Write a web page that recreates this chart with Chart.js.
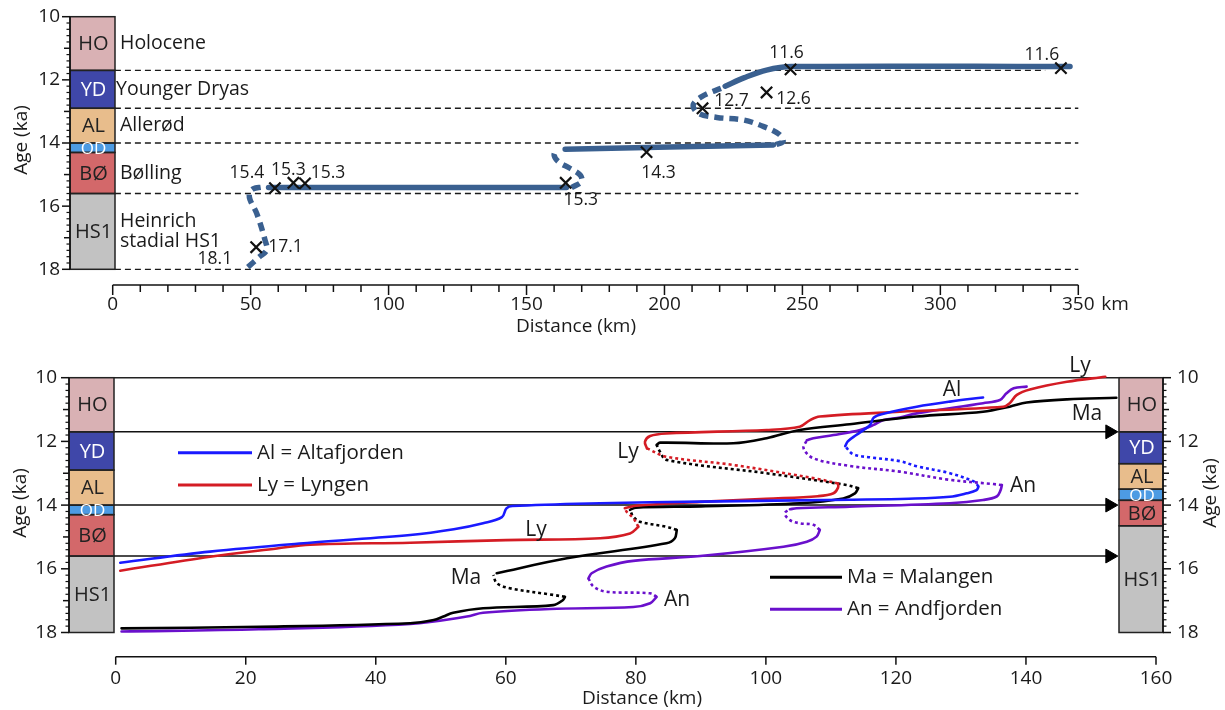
<!DOCTYPE html>
<html>
<head>
<meta charset="utf-8">
<script src="https://cdn.jsdelivr.net/npm/chart.js@4.4.1/dist/chart.umd.min.js"></script>
<style>
  body { margin: 0; background: #fff; width: 1225px; height: 710px; overflow: hidden; }
  canvas { display: block; }
</style>
</head>
<body>
<canvas id="topChart" width="1225" height="340"></canvas>
<canvas id="bottomChart" width="1225" height="370"></canvas>
<script>
var FONT = '"Open Sans", sans-serif';

// stratigraphy
var periodCodes = ["HO", "YD", "AL", "OD", "BØ", "HS1"];
var periodNames = ["Holocene", "Younger Dryas", "Allerød", "", "Bølling", "Heinrich\nstadial HS1"];
var periodColors = ["#d9b1b4", "#3f47a9", "#e8bd8c", "#4d9be3", "#d3686a", "#c2c2c2"];
var periodText = ["#222", "#fff", "#222", "#fff", "#222", "#222"];
var leftBounds = [10, 11.7, 12.9, 14.0, 14.3, 15.6, 18];
var rightBounds = [10, 11.7, 12.7, 13.5, 13.85, 14.65, 18];

// top panel: ice margin line (distance km, age ka)
var hs1Dashed = [[49, 17.93], [53, 17.62], [55.8, 17.39], [55.2, 17.07], [52.2, 16.23], [49.8, 15.8], [49.6, 15.58], [51, 15.45], [54, 15.4]];
var bollingSolid = [[56.5, 15.41], [164.5, 15.41]];
var bollingDashed = [[166.3, 15.41], [170, 15.22], [169.4, 15.01], [165.7, 14.8], [161.5, 14.59], [160, 14.38], [161, 14.2]];
var allerodSolid = [[164, 14.2], [239.5, 14.06]];
var ydDashed = [[240.5, 14.05], [243, 13.95], [241.5, 13.72], [236, 13.48], [228.6, 13.27], [219, 13.19], [212.3, 13.06], [210.4, 12.8], [213.5, 12.53], [221.3, 12.24]];
var holoceneSolid = [[222, 12.2], [229, 11.93], [237, 11.69], [246, 11.58], [347, 11.58]];
var markerX = [52, 58.8, 65.5, 69.7, 164.2, 193.5, 213.8, 237, 245.7, 343.7];
var markerY = [17.3, 15.43, 15.26, 15.28, 15.26, 14.29, 12.9, 12.4, 11.67, 11.63];
var markerLabels = ["17.1", "15.4", "15.3", "15.3", "15.3", "14.3", "12.7", "12.6", "11.6", "11.6"];
var topBoundaries = [11.7, 12.9, 14.0, 15.6, 18.0];
var topBoundaryEnd = [338, 350, 350, 350, 350];

// bottom panel: fjord curves
var alSolid1 = [[0.7, 15.81], [14.5, 15.46], [29.9, 15.18], [45.3, 14.94], [52, 14.76], [56.5, 14.57], [59.4, 14.38], [60.1, 14.1], [61, 14.03], [74.5, 13.94], [90, 13.89], [112.9, 13.83], [122, 13.8], [128.3, 13.74], [130.9, 13.63], [132.4, 13.53], [132.7, 13.42]];
var alDotted = [[132.7, 13.42], [132.1, 13.27], [128.3, 13.0], [123.2, 12.78], [120.6, 12.62], [116, 12.5], [113.4, 12.4], [112.2, 12.15]];
var alSolid2 = [[112.2, 12.15], [112.6, 12.0], [113.9, 11.8], [116, 11.49], [116.6, 11.25], [118.1, 11.13], [123.2, 10.91], [128.3, 10.75], [133.4, 10.62]];

var lySolid1 = [[0.7, 16.06], [14.5, 15.62], [24.8, 15.36], [29.9, 15.24], [45.3, 15.18], [60, 15.1], [74.5, 15.04], [79.1, 14.89], [80.4, 14.68]];
var lyDotted1 = [[80.4, 14.68], [79.6, 14.41], [78.6, 14.21], [78.3, 14.1]];
var lySolid2 = [[78.3, 14.1], [80, 14.02], [89.9, 13.9], [100, 13.8], [108, 13.72], [110.4, 13.63], [111.1, 13.45], [111.1, 13.32]];
var lyDotted2 = [[111.1, 13.32], [108, 13.18], [95, 12.74], [84.7, 12.48], [81.7, 12.22]];
var lySolid3 = [[81.7, 12.22], [81.4, 12.01], [82.2, 11.83], [84.7, 11.75], [100.1, 11.64], [105.2, 11.54], [106.8, 11.33], [108.3, 11.22], [120.6, 11.07], [136.5, 10.91], [137.5, 10.8], [138.6, 10.54], [140.6, 10.37], [146.3, 10.13], [152.2, 9.97]];

var maSolid1 = [[0.9, 17.87], [22.2, 17.82], [45.3, 17.71], [48.9, 17.61], [50.4, 17.5], [51.9, 17.38], [56.5, 17.24], [67.3, 17.14], [68.8, 16.98], [69.1, 16.88]];
var maDotted1 = [[69.1, 16.88], [67.3, 16.82], [60.6, 16.61], [58.6, 16.45], [58.1, 16.19]];
var maSolid2 = [[58.6, 16.14], [69.4, 15.67], [84.7, 15.2], [86, 15.04], [86.3, 14.78]];
var maDotted2 = [[86.3, 14.78], [84.7, 14.68], [80.6, 14.52], [79.6, 14.36], [79.1, 14.15]];
var maSolid3 = [[79.1, 14.15], [80, 14.08], [90, 14.04], [105.2, 13.94], [111.9, 13.79], [113.7, 13.63], [114.2, 13.47]];
var maDotted3 = [[114.2, 13.47], [112.4, 13.37], [100.1, 13.0], [84.7, 12.58], [83.7, 12.32], [83.2, 12.11]];
var maSolid4 = [[83.2, 12.11], [83.7, 12.04], [95, 12.06], [100.1, 11.9], [105.2, 11.64], [112.9, 11.46], [123.2, 11.22], [133.4, 11.07], [137.5, 10.91], [140.1, 10.78], [146.3, 10.68], [153.9, 10.63]];

var anSolid1 = [[0.9, 17.97], [22, 17.9], [45.3, 17.73], [54, 17.5], [56.5, 17.38], [66.8, 17.26], [79.6, 17.2], [82.2, 17.08], [83.2, 16.88]];
var anDotted1 = [[83.2, 16.88], [82.2, 16.77], [75.5, 16.72], [73.5, 16.56], [72.7, 16.3]];
var anSolid2 = [[72.7, 16.3], [73.2, 16.14], [75.5, 15.93], [79.6, 15.75], [89.9, 15.6], [102.7, 15.31], [106.3, 15.15], [107.8, 14.99], [108.3, 14.78]];
var anDotted2 = [[108.3, 14.78], [107.3, 14.62], [105.2, 14.57], [103.7, 14.47], [102.9, 14.26], [103.7, 14.13]];
var anSolid3 = [[103.7, 14.13], [104.7, 14.1], [112.9, 14.05], [128.3, 13.94], [133.4, 13.84], [135.5, 13.73], [136.1, 13.53], [136.3, 13.37]];
var anDotted3 = [[136.3, 13.37], [135, 13.34], [128, 13.2], [120.6, 12.95], [112.9, 12.77], [107.3, 12.53], [105.8, 12.22], [106.3, 11.96]];
var anSolid4 = [[106.3, 11.96], [107.3, 11.9], [110.4, 11.8], [114.5, 11.64], [116.5, 11.49], [118.1, 11.33], [120.6, 11.25], [123.2, 11.12], [133.4, 10.8], [136, 10.7], [137, 10.49], [138.1, 10.33], [140.1, 10.28]];

var bottomArrows = [11.7, 14.0, 15.6];
var legendNames = ["Al = Altafjorden", "Ly = Lyngen", "Ma = Malangen", "An = Andfjorden"];

var BLUE = "#1a1aff", RED = "#d41c24", BLACK = "#000", PURPLE = "#6a10cc";

function pts(arr) {
  return arr.map(function (p) { return { x: p[0], y: p[1] }; });
}

function seg(arr, color, width, dash, order) {
  return {
    data: pts(arr),
    showLine: true,
    borderColor: color,
    borderWidth: width,
    borderDash: dash || [],
    borderCapStyle: dash ? "butt" : "round",
    pointRadius: 0,
    tension: 0.35,
    clip: false,
    order: order || 1
  };
}

function drawText(ctx, s, x, y, size, align, color, rot) {
  ctx.save();
  ctx.font = size + "px " + FONT;
  ctx.fillStyle = color || "#1a1a1a";
  ctx.textAlign = align || "center";
  ctx.textBaseline = "middle";
  ctx.translate(x, y);
  if (rot) ctx.rotate(rot);
  ctx.fillText(s, 0, 0);
  ctx.restore();
}

function drawColumn(ctx, ys, x0, x1, bounds) {
  var i, a, b;
  for (i = 0; i < periodCodes.length; i++) {
    a = ys.getPixelForValue(bounds[i]);
    b = ys.getPixelForValue(bounds[i + 1]);
    ctx.fillStyle = periodColors[i];
    ctx.fillRect(x0, a, x1 - x0, b - a);
  }
  ctx.strokeStyle = "#222";
  ctx.lineWidth = 1.5;
  for (i = 0; i < periodCodes.length; i++) {
    a = ys.getPixelForValue(bounds[i]);
    b = ys.getPixelForValue(bounds[i + 1]);
    ctx.strokeRect(x0, a, x1 - x0, b - a);
  }
  for (i = 0; i < periodCodes.length; i++) {
    a = ys.getPixelForValue(bounds[i]);
    b = ys.getPixelForValue(bounds[i + 1]);
    drawText(ctx, periodCodes[i], (x0 + x1) / 2 + 1, (a + b) / 2 + 1, i === 3 ? 17 : 20, "center", periodText[i]);
  }
}

function drawYAxis(ctx, ys, x, dir, labelX, align) {
  ctx.strokeStyle = "#111";
  ctx.lineWidth = 1.5;
  ctx.beginPath();
  ctx.moveTo(x, ys.getPixelForValue(10));
  ctx.lineTo(x, ys.getPixelForValue(18));
  ctx.stroke();
  for (var k = 0; k <= 40; k++) {
    var p = ys.getPixelForValue(10 + k * 0.2);
    var len = k % 10 === 0 ? 8 : (k % 5 === 0 ? 6 : 3.5);
    ctx.lineWidth = k % 5 === 0 ? 1.5 : 1.2;
    ctx.beginPath();
    ctx.moveTo(x, p);
    ctx.lineTo(x + dir * len, p);
    ctx.stroke();
  }
  for (var v = 10; v <= 18; v += 2) {
    drawText(ctx, String(v), labelX, ys.getPixelForValue(v), 19, align);
  }
}

// label placement around the markers, in pixels
var labelOffsets = [[12, 0, "left"], [-28, -15, "center"], [-5, -13, "center"], [23, -10, "center"], [15, 17, "center"], [12, 21, "center"], [29, -7, "center"], [27, 7, "center"], [-4, -16, "center"], [-19, -13, "center"]];

var topDeco = {
  id: "topDeco",
  afterDraw: function (chart) {
    var ctx = chart.ctx, xs = chart.scales.x, ys = chart.scales.y;
    var i;
    drawColumn(ctx, ys, 70, 115, leftBounds);
    drawYAxis(ctx, ys, 70, -1, 60, "right");
    drawText(ctx, "Age (ka)", 22, 140, 19, "center", "#1a1a1a", -Math.PI / 2);

    for (i = 0; i < periodNames.length; i++) {
      if (!periodNames[i]) continue;
      var mid = ys.getPixelForValue((leftBounds[i] + leftBounds[i + 1]) / 2);
      var lines = periodNames[i].split("\n");
      var xl = i === 1 ? 116 : 120;
      if (lines.length === 1) {
        drawText(ctx, lines[0], xl, mid, 19.5, "left");
      } else {
        drawText(ctx, lines[0], xl, mid - 10, 19.5, "left");
        drawText(ctx, lines[1], xl, mid + 10, 19.5, "left");
      }
    }

    // x axis, offset below plot
    var ay = 285;
    ctx.strokeStyle = "#111";
    ctx.lineWidth = 1.5;
    ctx.beginPath();
    ctx.moveTo(xs.getPixelForValue(0), ay);
    ctx.lineTo(xs.getPixelForValue(350), ay);
    ctx.stroke();
    for (var v = 0; v <= 350; v += 10) {
      var px = xs.getPixelForValue(v);
      ctx.beginPath();
      ctx.moveTo(px, ay);
      ctx.lineTo(px, ay + (v % 50 === 0 ? 10 : 7));
      ctx.stroke();
      if (v % 50 === 0) drawText(ctx, String(v), px, 305, 19, "center");
    }
    drawText(ctx, "km", 1115, 305, 19, "center");
    drawText(ctx, "Distance (km)", 576, 327, 19, "center");

    for (i = 0; i < markerLabels.length; i++) {
      var o = labelOffsets[i];
      drawText(ctx, markerLabels[i], xs.getPixelForValue(markerX[i]) + o[0], ys.getPixelForValue(markerY[i]) + o[1], 17.5, o[2]);
    }
    drawText(ctx, "18.1", xs.getPixelForValue(hs1Dashed[0][0]) - 33, ys.getPixelForValue(hs1Dashed[0][1]) - 8, 17.5, "center");
  }
};

var topDatasets = [{
  data: markerX.map(function (x, i) { return { x: x, y: markerY[i] }; }),
  showLine: false,
  pointStyle: "crossRot",
  pointRadius: 8,
  pointBorderWidth: 2.2,
  pointBorderColor: "#111",
  pointBackgroundColor: "#111",
  clip: false,
  order: 0
}];
var TOPBLUE = "#3a6090";
[[hs1Dashed, true], [bollingSolid, false], [bollingDashed, true], [allerodSolid, false], [ydDashed, true], [holoceneSolid, false]].forEach(function (s) {
  topDatasets.push(seg(s[0], TOPBLUE, 5.5, s[1] ? [9, 6] : null, 1));
});
topBoundaries.forEach(function (y, i) {
  var d = seg([[0.8, y], [topBoundaryEnd[i], y]], "#1a1a1a", 1.3, [6, 4], 2);
  d.tension = 0;
  topDatasets.push(d);
});

new Chart("topChart", {
  type: "scatter",
  data: { datasets: topDatasets },
  options: {
    responsive: false,
    animation: false,
    devicePixelRatio: 1,
    events: [],
    layout: { padding: { left: 112.7, right: 146.7, top: 16.7, bottom: 70.7 } },
    scales: {
      x: { type: "linear", min: 0, max: 350, display: false },
      y: { type: "linear", min: 10, max: 18, reverse: true, display: false }
    },
    plugins: { legend: { display: false }, tooltip: { enabled: false } }
  },
  plugins: [topDeco]
});

// bottom panel
var curveLabels = [["Al", 952, 50], ["Ly", 1080, 26], ["Ma", 1087, 74], ["An", 1023, 146], ["Ly", 628, 112], ["Ly", 536, 190], ["Ma", 466, 238], ["An", 677, 260]];
var legendPos = [[178, 252, 112.7, BLUE], [178, 252, 145, RED], [770, 842, 237.3, BLACK], [770, 842, 269.3, PURPLE]];

var bottomDeco = {
  id: "bottomDeco",
  afterDraw: function (chart) {
    var ctx = chart.ctx, xs = chart.scales.x, ys = chart.scales.y;
    var i;
    drawColumn(ctx, ys, 69, 114, leftBounds);
    drawYAxis(ctx, ys, 69, -1, 57, "right");
    drawText(ctx, "Age (ka)", 21, 163, 19, "center", "#1a1a1a", -Math.PI / 2);
    drawColumn(ctx, ys, 1119, 1163, rightBounds);
    drawYAxis(ctx, ys, 1163, 1, 1177, "left");
    drawText(ctx, "Age (ka)", 1211, 153, 19, "center", "#1a1a1a", -Math.PI / 2);

    var ay = 316.7;
    ctx.strokeStyle = "#111";
    ctx.lineWidth = 1.5;
    ctx.beginPath();
    ctx.moveTo(xs.getPixelForValue(0), ay);
    ctx.lineTo(xs.getPixelForValue(160), ay);
    ctx.stroke();
    for (var v = 0; v <= 160; v += 20) {
      var px = xs.getPixelForValue(v);
      ctx.beginPath();
      ctx.moveTo(px, ay);
      ctx.lineTo(px, ay + 8);
      ctx.stroke();
      drawText(ctx, String(v), px, 338.3, 19, "center");
    }
    drawText(ctx, "Distance (km)", 642, 359, 19, "center");

    for (i = 0; i < curveLabels.length; i++) {
      drawText(ctx, curveLabels[i][0], curveLabels[i][1], curveLabels[i][2], 21, "center");
    }
    for (i = 0; i < legendNames.length; i++) {
      var l = legendPos[i];
      ctx.strokeStyle = l[3];
      ctx.lineWidth = 3;
      ctx.beginPath();
      ctx.moveTo(l[0], l[2]);
      ctx.lineTo(l[1], l[2]);
      ctx.stroke();
      drawText(ctx, legendNames[i], l[1] + 5, l[2], 20.5, "left");
    }
  }
};

var bottomDatasets = [];
var W = 2.6, DOT = [3, 3];
[[alSolid1, BLUE, 0], [alDotted, BLUE, 1], [alSolid2, BLUE, 0],
 [lySolid1, RED, 0], [lyDotted1, RED, 1], [lySolid2, RED, 0], [lyDotted2, RED, 1], [lySolid3, RED, 0],
 [maSolid1, BLACK, 0], [maDotted1, BLACK, 1], [maSolid2, BLACK, 0], [maDotted2, BLACK, 1], [maSolid3, BLACK, 0], [maDotted3, BLACK, 1], [maSolid4, BLACK, 0],
 [anSolid1, PURPLE, 0], [anDotted1, PURPLE, 1], [anSolid2, PURPLE, 0], [anDotted2, PURPLE, 1], [anSolid3, PURPLE, 0], [anDotted3, PURPLE, 1], [anSolid4, PURPLE, 0]
].forEach(function (s) {
  bottomDatasets.push(seg(s[0], s[1], W, s[2] ? DOT : null, 1));
});
// top frame line and boundary arrows
var topLine = seg([[-0.3, 10], [154.2, 10]], "#222", 1.5, null, 2);
topLine.tension = 0;
bottomDatasets.push(topLine);
bottomArrows.forEach(function (y) {
  var d = seg([[-0.3, y], [152.9, y]], "#111", 1.5, null, 2);
  d.tension = 0;
  d.pointRadius = [0, 8];
  d.pointStyle = "triangle";
  d.pointRotation = 90;
  d.pointBackgroundColor = "#000";
  d.pointBorderColor = "#000";
  d.pointBorderWidth = 1;
  bottomDatasets.push(d);
});

new Chart("bottomChart", {
  type: "scatter",
  data: { datasets: bottomDatasets },
  options: {
    responsive: false,
    animation: false,
    devicePixelRatio: 1,
    events: [],
    layout: { padding: { left: 115.7, right: 69, top: 37.7, bottom: 77.5 } },
    scales: {
      x: { type: "linear", min: 0, max: 160, display: false },
      y: { type: "linear", min: 10, max: 18, reverse: true, display: false }
    },
    plugins: { legend: { display: false }, tooltip: { enabled: false } }
  },
  plugins: [bottomDeco]
});
</script>
</body>
</html>
